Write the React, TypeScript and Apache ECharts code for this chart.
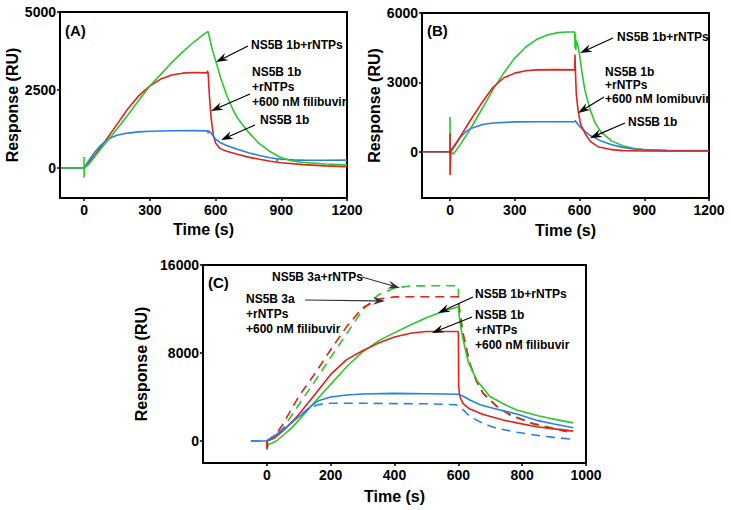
import React, { useEffect, useRef } from "react";
import * as echarts from "echarts";

// ---------- DATA (time s, response RU) ----------
// Panel A
const aXTicks = [0, 300, 600, 900, 1200];
const aYTicks = [0, 2500, 5000];
const aGreen = [[-105,0],[0,0],[0,350],[0,-300],[2,0],[25,150],[50,380],[75,600],[100,820],[150,1250],[200,1700],[250,2170],[300,2630],[350,3000],[400,3380],[450,3720],[500,4030],[540,4250],[566,4380],[575,4100],[585,3800],[600,3450],[625,2850],[650,2350],[680,1860],[700,1600],[750,1150],[800,780],[850,520],[900,330],[950,230],[1000,180],[1100,130],[1200,100]];
const aRed = [[-105,0],[0,0],[25,200],[50,430],[100,900],[150,1400],[200,1900],[250,2320],[300,2630],[350,2850],[400,2980],[450,3040],[500,3060],[562,3050],[563,3120],[566,3050],[572,2300],[580,1600],[590,1050],[600,800],[620,630],[650,540],[700,440],[750,350],[800,280],[850,220],[900,170],[1000,110],[1100,70],[1200,45]];
const aBlue = [[-105,0],[0,0],[25,280],[50,520],[75,720],[100,870],[125,980],[150,1050],[200,1120],[250,1160],[300,1180],[400,1195],[500,1200],[565,1190],[566,1110],[568,1190],[580,1120],[590,1020],[600,930],[620,820],[650,720],[700,600],[750,490],[800,400],[850,330],[880,300],[881,210],[883,300],[900,280],[950,265],[960,260],[961,200],[963,260],[1000,255],[1100,250],[1200,255]];

// Panel B
const bXTicks = [0, 300, 600, 900, 1200];
const bYTicks = [0, 3000, 6000];
const bGreen = [[-130,0],[0,0],[0,1500],[0,-200],[3,0],[15,-100],[30,80],[50,350],[75,700],[100,1080],[150,1880],[200,2700],[250,3420],[300,4050],[350,4520],[400,4850],[450,5050],[500,5150],[540,5180],[578,5180],[579,4500],[581,5100],[583,4400],[585,4800],[590,4700],[600,4200],[612,3400],[625,2650],[650,1800],[672,1250],[700,850],[750,460],[800,260],[850,150],[900,100],[1000,60],[1200,50]];
const bRed = [[-130,0],[0,0],[0,800],[0,-1000],[3,0],[25,300],[50,700],[100,1450],[150,2150],[200,2800],[250,3200],[300,3400],[350,3500],[400,3540],[500,3550],[578,3540],[579,4200],[581,3500],[585,2500],[593,1800],[605,1200],[625,800],[650,450],[685,220],[750,90],[800,50],[900,30],[1200,30]];
const bBlue = [[-130,0],[0,0],[25,350],[50,650],[75,880],[100,1020],[150,1180],[200,1240],[300,1290],[400,1300],[578,1300],[580,1350],[585,1280],[600,1100],[625,880],[650,700],[700,460],[750,300],[800,190],[850,120],[900,80],[1000,50],[1200,40]];

// Panel C
const cXTicks = [0, 200, 400, 600, 800, 1000];
const cYTicks = [0, 8000, 16000];
const cGreen1b = [[0,0],[0,-800],[5,-300],[15,-200],[30,0],[50,500],[75,1100],[100,1900],[150,3550],[200,5150],[250,6750],[300,8100],[350,9100],[400,9850],[450,10550],[500,11200],[550,11750],[600,12200],[601,11900],[605,10800],[615,9200],[631,7200],[657,5550],[699,4050],[750,3250],[783,2820],[850,2300],[887,2060],[960,1650]];
const cRed1b = [[0,0],[0,-700],[2,0],[25,300],[50,900],[75,1600],[100,2400],[150,4200],[200,6050],[250,7400],[300,8200],[350,8900],[400,9450],[450,9800],[500,9950],[597,9950],[600,9900],[601,5000],[605,4000],[615,3400],[636,2900],[678,2400],[741,1900],[783,1650],[845,1300],[900,1100],[960,900]];
const cBlue1b = [[-50,0],[0,0],[25,500],[56,1100],[80,1800],[100,2200],[119,2600],[140,3200],[161,3650],[200,4000],[250,4180],[300,4270],[400,4330],[500,4300],[600,4250],[620,4000],[636,3730],[668,3300],[700,3050],[783,2450],[850,1850],[900,1550],[960,1200]];
const cGreen3a = [[0,0],[25,300],[50,1100],[75,2200],[100,3300],[150,5400],[200,7600],[250,9750],[300,11900],[350,13300],[400,13900],[450,14100],[600,14120],[601,12500],[605,11800],[615,9800],[636,7100],[657,5500],[678,4350],[720,3200],[762,2400],[835,1600],[900,1150],[960,850]];
const cRed3a = [[0,0],[25,500],[50,1500],[75,2800],[100,4050],[150,6100],[200,8300],[250,10400],[300,12100],[350,12900],[400,13100],[450,13120],[600,13120],[601,12400],[605,11500],[615,9700],[636,7000],[657,5400],[678,4300],[720,3150],[762,2350],[835,1550],[900,1100],[940,850]];
const cBlue3a = [[-50,0],[0,0],[25,500],[50,1100],[75,1600],[100,2200],[129,2950],[160,3300],[200,3430],[300,3430],[400,3400],[500,3380],[590,3300],[600,3200],[620,2700],[636,2210],[678,1600],[720,1150],[783,800],[850,500],[900,330],[960,150]];

// ---------- STYLE ----------
const FONT = "'Liberation Sans', Arial, Helvetica, sans-serif";
const GREEN = "#2ec52e";
const RED = "#e5201b";
const BLUE = "#2b7fe3";

function arrow(x1: number, y1: number, x2: number, y2: number, color = "#000") {
  const dx = x2 - x1, dy = y2 - y1;
  const len = Math.sqrt(dx * dx + dy * dy);
  const ux = dx / len, uy = dy / len;
  const nx = -uy, ny = ux;
  const L = 12, W = 4, N = 8;
  const bx = x2 - ux * L, by = y2 - uy * L;
  const kx = x2 - ux * N, ky = y2 - uy * N;
  return [
    { type: "line", shape: { x1, y1, x2: kx, y2: ky }, style: { stroke: color, lineWidth: 1.2 }, z: 100 },
    { type: "polygon", shape: { points: [[x2, y2], [bx + nx * W, by + ny * W], [kx, ky], [bx - nx * W, by - ny * W]] }, style: { fill: color }, z: 100 },
  ];
}

function label(text: string, x: number, y: number, size = 12) {
  return { type: "text", x, y, z: 100, style: { text, fill: "#000", font: `bold ${size}px ${FONT}`, verticalAlign: "middle", align: "left" } };
}

const plain = (v: number) => String(v);

function xAxis(gridIndex: number, min: number, max: number, ticks: number[], nameGap: number) {
  return {
    type: "value", gridIndex, min, max,
    axisLine: { show: true, onZero: false, lineStyle: { color: "#000", width: 2 } },
    axisTick: { show: true, inside: false, length: 3, customValues: ticks, lineStyle: { color: "#000", width: 1.5 } },
    axisLabel: { customValues: ticks, formatter: plain, color: "#000", fontFamily: FONT, fontWeight: "bold", fontSize: 14, margin: 5 },
    splitLine: { show: false },
    name: "Time (s)", nameLocation: "middle", nameGap,
    nameTextStyle: { color: "#000", fontFamily: FONT, fontWeight: "bold", fontSize: 16 },
  };
}

function yAxis(gridIndex: number, min: number, max: number, ticks: number[], nameGap: number) {
  return {
    type: "value", gridIndex, min, max,
    axisLine: { show: true, onZero: false, lineStyle: { color: "#000", width: 2 } },
    axisTick: { show: true, inside: false, length: 3, customValues: ticks, lineStyle: { color: "#000", width: 1.5 } },
    axisLabel: { customValues: ticks, formatter: plain, color: "#000", fontFamily: FONT, fontWeight: "bold", fontSize: 14, margin: 4 },
    splitLine: { show: false },
    name: "Response (RU)", nameLocation: "middle", nameGap,
    nameTextStyle: { color: "#000", fontFamily: FONT, fontWeight: "bold", fontSize: 16 },
  };
}

function line(data: number[][], idx: number, color: string, dashed: boolean, z: number) {
  return {
    type: "line", xAxisIndex: idx, yAxisIndex: idx, data, showSymbol: false, symbol: "none",
    lineStyle: { color, width: 1.6, type: dashed ? [9, 6] : "solid" }, z, silent: true,
  };
}

export default function App() {
  const ref = useRef<HTMLDivElement>(null);
  useEffect(() => {
    if (!ref.current) return;
    const chart = echarts.init(ref.current, null, { renderer: "svg" });
    const grid = (left: number, top: number, width: number, height: number) => ({
      left, top, width, height, show: true, borderColor: "#000", borderWidth: 2, outerBoundsMode: "none",
    });
    const option: any = {
      animation: false,
      backgroundColor: "#fff",
      grid: [grid(60, 12, 287, 186), grid(422, 13, 287, 185), grid(203, 265, 383, 198)],
      xAxis: [xAxis(0, -110, 1200, aXTicks, 23), xAxis(1, -130, 1200, bXTicks, 24), xAxis(2, -200, 1000, cXTicks, 25)],
      yAxis: [yAxis(0, -960, 5000, aYTicks, 37), yAxis(1, -2000, 6000, bYTicks, 36), yAxis(2, -2000, 16000, cYTicks, 44)],
      series: [
        line(aRed, 0, RED, false, 2),
        line(aBlue, 0, BLUE, false, 3),
        line(aGreen, 0, GREEN, false, 4),
        line(bGreen, 1, GREEN, false, 2),
        line(bBlue, 1, BLUE, false, 3),
        line(bRed, 1, RED, false, 4),
        line(cGreen3a, 2, GREEN, true, 2),
        line(cRed3a, 2, RED, true, 3),
        line(cBlue3a, 2, BLUE, true, 3),
        line(cGreen1b, 2, GREEN, false, 4),
        line(cRed1b, 2, RED, false, 4),
        line(cBlue1b, 2, BLUE, false, 5),
      ],
      graphic: [
        label("(A)", 65, 30, 15),
        label("(B)", 427, 30, 15),
        label("(C)", 208, 282, 15),
        // Panel A
        label("NS5B 1b+rNTPs", 251, 45),
        ...arrow(248, 46, 216, 62),
        label("NS5B 1b", 252, 72),
        label("+rNTPs", 252, 87),
        label("+600 nM filibuvir", 252, 102),
        ...arrow(250, 94, 211, 111),
        label("NS5B 1b", 260, 120),
        ...arrow(255, 125, 221, 140),
        // Panel B
        label("NS5B 1b+rNTPs", 617, 37),
        ...arrow(613, 38, 580, 53),
        label("NS5B 1b", 605, 72),
        label("+rNTPs", 605, 85),
        label("+600 nM lomibuvir", 605, 99),
        ...arrow(604, 97, 578, 113),
        label("NS5B 1b", 628, 122),
        ...arrow(625, 123, 590, 138),
        // Panel C
        label("NS5B 3a+rNTPs", 272, 277),
        ...arrow(362, 277, 400, 288, "#333"),
        label("NS5B 3a", 246, 299),
        label("+rNTPs", 246, 314),
        label("+600 nM filibuvir", 246, 329),
        ...arrow(305, 300, 385, 301, "#333"),
        label("NS5B 1b+rNTPs", 475, 294),
        ...arrow(473, 297, 438, 313),
        label("NS5B 1b", 475, 315),
        label("+rNTPs", 475, 330),
        label("+600 nM filibuvir", 475, 345),
        ...arrow(472, 317, 432, 333),
      ],
    };
    chart.setOption(option);
    return () => chart.dispose();
  }, []);
  return (
    <div
      ref={ref}
      style={{ position: "fixed", left: 0, top: 0, width: 731, height: 510, background: "#fff" }}
    />
  );
}
